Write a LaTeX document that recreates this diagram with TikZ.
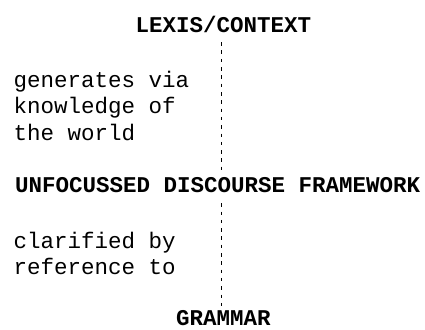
\documentclass[tikz,border=0pt]{standalone}
\usepackage{fontspec}
\setmainfont{Liberation Mono}
\newfontfamily\headfont{Liberation Mono}
\begin{document}
\begin{tikzpicture}[x=1pt,y=1pt,
  heading/.style={inner sep=0pt, font=\headfont\fontsize{22.5}{26}\selectfont\bfseries, text height=15pt, text depth=0pt, anchor=base},
  bodytext/.style={inner sep=0pt, font=\fontsize{22.5}{26.3}\selectfont, align=left},
  dashline/.style={line width=0.8pt, dash pattern=on 3.5pt off 4.8pt}]
\useasboundingbox (0,0) rectangle (425,-329);
\coordinate (axis) at (221.7,0);
\node[heading] (lex) at (223.5,-33) {LEXIS/CONTEXT};
\node[heading, anchor=base west] (ufd) at (15,-192) {UNFOCUSSED DISCOURSE FRAMEWORK};
\node[heading] (gram) at (223.5,-325.5) {GRAMMAR};
\node[bodytext, anchor=north west] (gen) at (13.3,-71) {generates via\\knowledge of\\the world};
\node[bodytext, anchor=north west] (clar) at (13.3,-231.5) {clarified by\\reference to};
\draw[dashline, shorten <=9pt, shorten >=5pt] (lex.south -| axis) -- (ufd.north -| axis);
\draw[dashline, shorten <=11pt, shorten >=4pt] (ufd.south -| axis) -- (gram.north -| axis);
\end{tikzpicture}
\end{document}
